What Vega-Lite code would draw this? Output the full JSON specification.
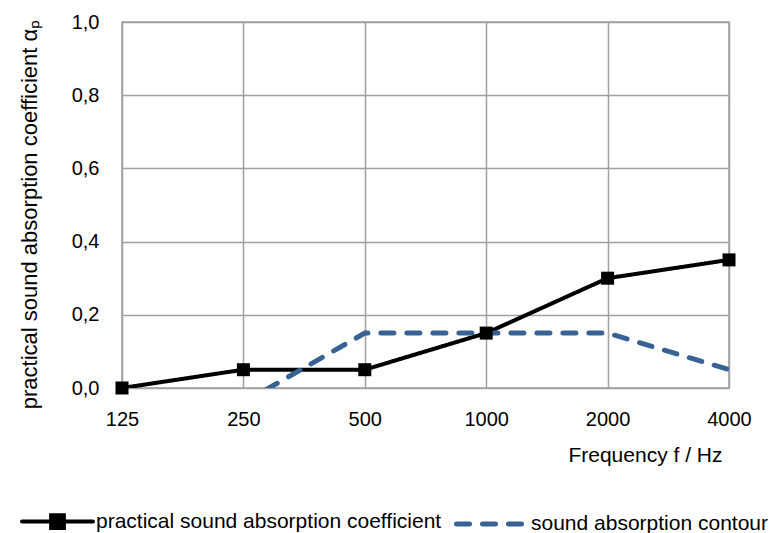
{
  "$schema": "https://vega.github.io/schema/vega-lite/v6.json",
  "autosize": "none",
  "width": 607,
  "height": 366,
  "padding": {"left": 122, "top": 22, "right": 54, "bottom": 145},
  "background": "white",
  "config": {
    "font": "Liberation Sans",
    "view": {"stroke": "#a0a0a0", "strokeWidth": 1.5},
    "axis": {"labelFont": "Liberation Sans", "titleFont": "Liberation Sans", "labelColor": "#000", "titleColor": "#000", "titleFontWeight": "normal"},
    "legend": {"labelFont": "Liberation Sans", "labelColor": "#000"}
  },
  "data": {"values": [
    {"f": "125", "v": 0.0, "s": "practical sound absorption coefficient"},
    {"f": "250", "v": 0.05, "s": "practical sound absorption coefficient"},
    {"f": "500", "v": 0.05, "s": "practical sound absorption coefficient"},
    {"f": "1000", "v": 0.15, "s": "practical sound absorption coefficient"},
    {"f": "2000", "v": 0.3, "s": "practical sound absorption coefficient"},
    {"f": "4000", "v": 0.35, "s": "practical sound absorption coefficient"},
    {"f": "250", "v": -0.04, "s": "sound absorption contour"},
    {"f": "500", "v": 0.15, "s": "sound absorption contour"},
    {"f": "1000", "v": 0.15, "s": "sound absorption contour"},
    {"f": "2000", "v": 0.15, "s": "sound absorption contour"},
    {"f": "4000", "v": 0.05, "s": "sound absorption contour"}
  ]},
  "encoding": {
    "x": {"field": "f", "type": "ordinal", "sort": ["125", "250", "500", "1000", "2000", "4000"],
      "scale": {"type": "point", "padding": 0},
      "axis": {"title": "Frequency f / Hz", "labelAngle": 0, "labelFontSize": 20, "titleFontSize": 21, "ticks": false, "domain": false, "labelPadding": 21, "titlePadding": 15, "titleX": 600, "titleAlign": "right", "grid": true, "gridColor": "#a0a0a0", "gridWidth": 1.5}},
    "y": {"field": "v", "type": "quantitative",
      "scale": {"domain": [0, 1]},
      "axis": {"title": "practical sound absorption coefficient αₚ", "values": [0, 0.2, 0.4, 0.6, 0.8, 1.0], "labelExpr": "replace(format(datum.value, '.1f'), '.', ',')", "labelFontSize": 20, "titleFontSize": 22, "ticks": false, "domain": false, "labelPadding": 23, "titlePadding": 30, "titleY": 192, "gridColor": "#a0a0a0", "gridWidth": 1.5}}
  },
  "layer": [
    {
      "mark": {"type": "line", "clip": true, "strokeCap": "round"},
      "encoding": {
        "color": {"field": "s", "type": "nominal",
          "scale": {"domain": ["practical sound absorption coefficient", "sound absorption contour"], "range": ["#000000", "#386194"]},
          "legend": {"title": null, "orient": "none", "legendX": -102, "legendY": 462, "direction": "horizontal", "labelFontSize": 21, "symbolSize": 5041, "symbolStrokeWidth": 5, "labelOffset": 1, "columnPadding": 4, "labelLimit": 500,
            "encode": {"symbols": {"update": {
              "shape": {"signal": "datum.value === 'practical sound absorption coefficient' ? 'M-1,0L1,0M-0.18,-0.18L0.18,-0.18L0.18,0.18L-0.18,0.18Z' : 'M-1,0L1,0'"},
              "fill": {"signal": "datum.value === 'practical sound absorption coefficient' ? '#000000' : 'transparent'"},
              "strokeWidth": {"signal": "datum.value === 'practical sound absorption coefficient' ? 4 : 5"},
              "strokeCap": {"value": "round"}
            }}}}},
        "strokeDash": {"field": "s", "type": "nominal",
          "scale": {"domain": ["practical sound absorption coefficient", "sound absorption contour"], "range": [[1, 0], [13, 13]]},
          "legend": null},
        "strokeWidth": {"field": "s", "type": "nominal",
          "scale": {"domain": ["practical sound absorption coefficient", "sound absorption contour"], "range": [4, 5]},
          "legend": null}
      }
    },
    {
      "transform": [{"filter": "datum.s === 'practical sound absorption coefficient'"}],
      "mark": {"type": "point", "shape": "square", "filled": true, "size": 169, "opacity": 1, "color": "#000"},
      "encoding": {}
    }
  ]
}
